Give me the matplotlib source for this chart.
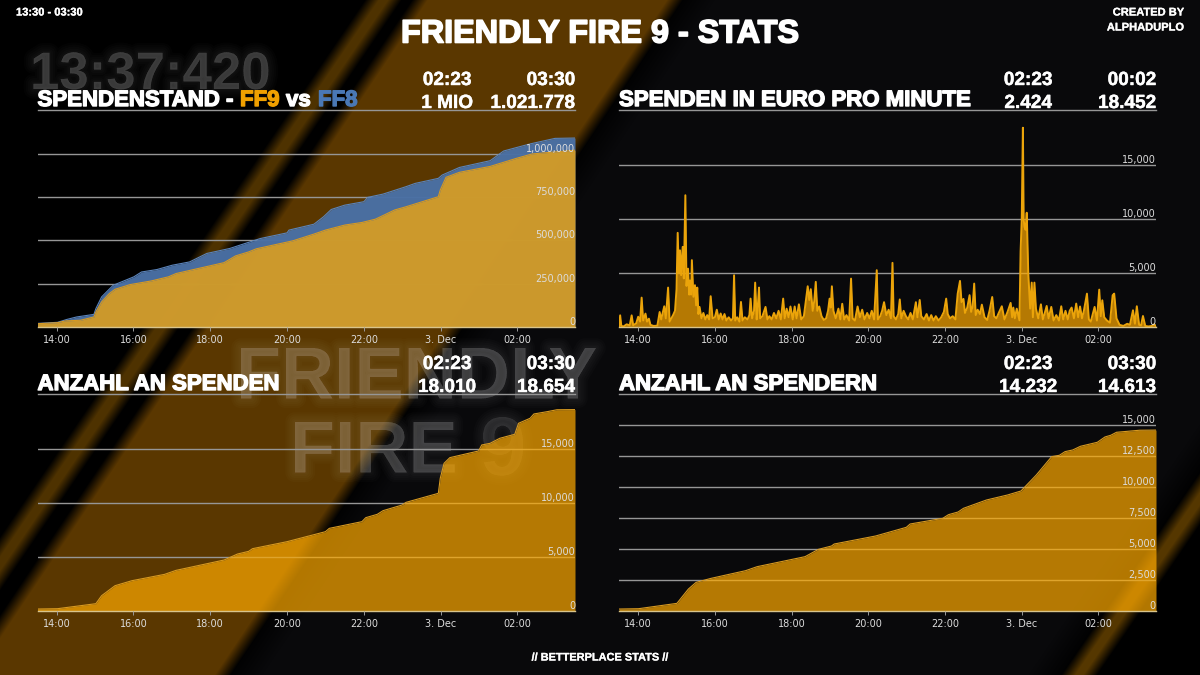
import numpy as np
import matplotlib
matplotlib.use("Agg")
import matplotlib.pyplot as plt
import matplotlib.patheffects as pe

# ----------------------------
# data (hours since midnight 2 Dec, 24 = 3 Dec 00:00)
# ----------------------------
ff9_h = [13.5, 14.02, 14.22, 14.62, 14.97, 15.02, 15.17, 15.37, 15.52, 15.91, 16.46, 16.91, 17.11, 18.36, 18.66, 19.0, 19.2,
         20.15, 20.7, 21.0, 21.5, 21.95, 22.3, 22.8, 23.1, 23.94, 23.99, 24.14, 24.49, 25.29, 25.98, 26.38, 27.5]
ff9_v = [19000, 25000, 35000, 39000, 58000, 87000, 145000, 193000, 218000, 245000, 266000, 290000, 309000, 372000, 411000, 434000, 452000,
         498000, 537000, 560000, 589000, 604000, 623000, 676000, 695000, 753000, 791000, 865000, 894000, 928000, 975000, 1000000, 1021778]

ff8_h = [13.5, 14.02, 14.27, 14.52, 14.97, 15.02, 15.17, 15.47, 16.01, 16.21, 16.61, 17.01, 17.46, 17.91, 18.51, 19.3, 20.0, 20.05,
         20.7, 20.95, 21.15, 21.5, 22.0, 22.1, 22.5, 23.1, 23.34, 23.94, 24.04, 24.49, 25.29, 25.64, 26.33, 26.98, 27.5]
ff8_v = [21000, 27000, 44000, 58000, 73000, 106000, 174000, 241000, 290000, 318000, 332000, 357000, 376000, 425000, 454000, 511000, 544000, 560000,
         594000, 637000, 679000, 704000, 724000, 749000, 768000, 811000, 830000, 859000, 878000, 922000, 961000, 1017000, 1058000, 1090000, 1092000]

spenden_h = [13.5, 14.02, 15.02, 15.17, 15.52, 15.96, 16.81, 17.11, 18.36, 18.71, 19.0, 19.1, 20.0, 21.0, 21.1, 21.95, 22.05, 22.35, 22.5,
             23.0, 23.1, 23.94, 23.99, 24.09, 24.24, 24.99, 25.07, 25.29, 25.54, 25.93, 26.03, 26.33, 26.43, 26.78, 27.03, 27.5]
spenden_v = [155, 186, 650, 1392, 2320, 2784, 3371, 3743, 4701, 5258, 5505, 5753, 6402, 7330, 7639, 8258, 8629, 8939, 9279,
             9805, 10052, 10887, 12279, 13671, 14197, 14816, 15372, 15527, 15991, 16362, 17383, 17847, 18249, 18465, 18640, 18654]

spender_h = [13.5, 14.01, 15.01, 15.31, 15.51, 15.9, 16.8, 17.1, 18.35, 18.7, 19.04, 19.11, 20.19, 20.99, 21.09, 21.94, 22.09, 22.34, 22.48,
             23.08, 23.63, 23.98, 24.38, 24.78, 24.98, 25.13, 25.33, 25.53, 25.97, 26.17, 26.32, 26.47, 27.07, 27.5]
spender_v = [135, 162, 594, 1754, 2293, 2617, 3238, 3561, 4371, 4964, 5234, 5396, 6044, 6745, 7015, 7473, 7770, 7986, 8283,
             8957, 9362, 9686, 10981, 12465, 12573, 12870, 13004, 13301, 13625, 14057, 14192, 14435, 14600, 14613]

# euro per minute, peaks and valleys
pm_h = [13.50, 13.53, 13.56, 13.62, 13.70, 13.78, 13.83, 13.87, 13.95, 14.00, 14.05, 14.09, 14.13, 14.19, 14.23, 14.28, 14.32, 14.40, 14.50, 14.56, 14.60, 14.68, 14.72, 14.78, 14.82, 14.91, 14.96,
        15.00, 15.03, 15.06, 15.09, 15.12, 15.16, 15.19, 15.23, 15.26, 15.30, 15.33, 15.35, 15.38, 15.40, 15.44, 15.48, 15.51, 15.54, 15.57, 15.60, 15.65, 15.70, 15.75, 15.80, 15.85, 15.89, 15.94,
        16.00, 16.05, 16.10, 16.15, 16.20, 16.25, 16.30, 16.36, 16.42, 16.47, 16.50, 16.53, 16.58, 16.64, 16.68, 16.72, 16.78, 16.85, 16.90, 16.93, 16.97, 17.02, 17.05, 17.09, 17.12, 17.15, 17.18, 17.24, 17.32, 17.37, 17.42, 17.48, 17.54, 17.60, 17.66, 17.72, 17.78, 17.82, 17.87, 17.92, 17.97,
        18.03, 18.08, 18.13, 18.19, 18.25, 18.32, 18.38, 18.42, 18.46, 18.50, 18.55, 18.59, 18.63, 18.67, 18.72, 18.78, 18.84, 18.90, 18.95, 18.99, 19.02, 19.05, 19.09, 19.15, 19.22, 19.27, 19.32, 19.37, 19.43, 19.50, 19.55, 19.59, 19.65, 19.72, 19.78, 19.84, 19.90, 19.97,
        20.03, 20.09, 20.15, 20.22, 20.25, 20.31, 20.36, 20.41, 20.47, 20.53, 20.59, 20.63, 20.66, 20.72, 20.78, 20.82, 20.86, 20.92, 20.98, 21.04, 21.10, 21.16, 21.24, 21.28, 21.34, 21.38, 21.45, 21.52, 21.58, 21.64, 21.70, 21.76, 21.83, 21.90, 21.97,
        22.03, 22.07, 22.13, 22.20, 22.27, 22.33, 22.39, 22.43, 22.48, 22.52, 22.58, 22.64, 22.68, 22.72, 22.76, 22.80, 22.85, 22.91, 22.96, 23.03, 23.10, 23.16, 23.23, 23.28, 23.34, 23.40, 23.48, 23.55, 23.63, 23.71, 23.75, 23.78, 23.82, 23.87, 23.94,
        23.97, 24.00, 24.03, 24.05, 24.07, 24.10, 24.13, 24.17, 24.22, 24.26, 24.29, 24.33, 24.37, 24.43, 24.50, 24.55, 24.60, 24.65, 24.70, 24.77, 24.83, 24.90, 24.97, 25.03, 25.08, 25.14, 25.20, 25.25, 25.30, 25.36, 25.42, 25.47, 25.52, 25.57, 25.62, 25.70, 25.75, 25.80, 25.90, 25.96,
        26.02, 26.06, 26.10, 26.15, 26.22, 26.30, 26.37, 26.41, 26.47, 26.55, 26.65, 26.75, 26.82, 26.90, 26.95, 27.00, 27.06, 27.11, 27.16, 27.22, 27.30, 27.40, 27.45, 27.50]
pm_v = [0, 1080, 100, 50, 250, 150, 1080, 150, 350, 950, 500, 2720, 600, 1240, 500, 770, 200, 100, 120, 1390, 700, 1920, 800, 3650, 500, 1100, 1500,
        3500, 8720, 5000, 7100, 4800, 7420, 4500, 12200, 3800, 5400, 3000, 4300, 3000, 6190, 2800, 3870, 2000, 3650, 1200, 1860, 800, 1300, 700, 1100, 700, 2850, 800,
        900, 1600, 700, 1250, 700, 1200, 600, 900, 600, 800, 4790, 600, 900, 500, 2320, 600, 900, 700, 1100, 2630, 800, 1500, 4110, 700, 2000, 3650, 800, 1000, 1860, 700, 1000, 700, 1300, 800, 1500, 700, 2630, 800, 1700, 900, 1900,
        700, 1900, 800, 2100, 700, 1000, 2700, 3770, 2500, 3500, 1500, 2400, 4180, 1500, 1900, 1000, 650, 800, 1500, 2630, 1800, 3770, 1500, 800, 1700, 700, 2150, 700, 1100, 600, 4480, 800, 600, 1900, 900, 1600, 700, 1300,
        800, 1500, 700, 5260, 700, 1000, 1500, 2300, 1100, 1600, 800, 5940, 1000, 700, 1200, 2550, 800, 1500, 1000, 700, 1300, 700, 2300, 900, 2500, 1000, 700, 1200, 600, 1100, 600, 1000, 600, 900, 1400,
        2630, 1200, 800, 1000, 700, 3090, 4270, 2300, 2600, 1300, 1800, 2950, 1400, 1900, 4020, 1100, 1600, 1200, 2070, 900, 650, 1500, 2780, 1000, 800, 1300, 1920, 700, 1400, 2230, 900, 1800, 800, 1700, 620,
        7000, 10000, 18452, 10000, 9280, 9000, 10580, 4950, 1700, 4110, 900, 4110, 1700, 800, 2100, 700, 1300, 1950, 800, 1860, 600, 1100, 600, 1920, 700, 1500, 700, 1500, 1800, 800, 2170, 900, 1900, 800, 1500, 3090, 700, 500, 1860, 600,
        3460, 1000, 2470, 900, 600, 400, 2940, 3090, 800, 200, 100, 300, 200, 1550, 300, 1920, 200, 150, 1020, 100, 50, 100, 250, 80]

# ----------------------------
# ticks and texts
# ----------------------------
tick_h = [14, 16, 18, 20, 22, 24, 26]
tick_lab = ["14:00", "16:00", "18:00", "20:00", "22:00", "3. Dec", "02:00"]

y_ticks_1 = [0, 250000, 500000, 750000, 1000000]
y_ticks_2 = [0, 5000, 10000, 15000]
y_ticks_3 = [0, 5000, 10000, 15000]
y_ticks_4 = [0, 2500, 5000, 7500, 10000, 12500, 15000]

ORANGE = "#ffaa00"
BLUE = "#4a70a5"
GRID = "#969696"
W, H = 1200, 675


def band(X, Y, x0, x1, s, blur):
    # soft diagonal strip between two edges
    left = np.clip((X - (x0 - s * Y)) / blur + 0.5, 0, 1)
    right = np.clip(((x1 - s * Y) - X) / blur + 0.5, 0, 1)
    return left * right


def add_panel(left, right, top, bottom, ymax, yticks):
    ax = fig.add_axes([left / W, 1 - bottom / H, (right - left) / W, (bottom - top) / H])
    ax.patch.set_alpha(0)
    ax.set_axisbelow(False)
    ax.set_xlim(13.5, 27.5)
    ax.set_ylim(0, ymax)
    ax.set_xticks(tick_h)
    ax.set_xticklabels(tick_lab)
    ax.set_yticks(yticks)
    ax.set_yticklabels([f"{v:,}" for v in yticks])
    ax.yaxis.tick_right()
    ax.tick_params(axis="y", right=False, length=0, pad=0, labelsize=7, labelcolor="#dcdcdc")
    ax.tick_params(axis="x", length=3, width=0.7, color="#999999", pad=3, labelsize=7, labelcolor="#dcdcdc")
    for lab in ax.get_yticklabels():
        lab.set_ha("right")
        lab.set_va("bottom")
    # grid stays under the fills, tick labels stay above them
    for v in yticks[1:]:
        ax.axhline(v, color=GRID, lw=1.0, zorder=1)
    for side in ["left", "right"]:
        ax.spines[side].set_visible(False)
    ax.spines["top"].set_color(GRID)
    ax.spines["top"].set_linewidth(1.0)
    ax.spines["bottom"].set_color("#d8c48c")
    ax.spines["bottom"].set_linewidth(1.0)
    return ax


def label(x, y, s, size, color="white", ha="left", stroke=0.5):
    t = fig.text(x / W, 1 - (y + 1.5) / H, s, fontsize=size, color=color, ha=ha, va="center",
                 family="Liberation Sans", weight="bold")
    t.set_path_effects([pe.withStroke(linewidth=stroke, foreground=color)])
    return t


fig = plt.figure(figsize=(12, 6.75), dpi=100)
fig.patch.set_facecolor("black")

# ----------------------------
# background
# ----------------------------
X, Y = np.meshgrid(np.arange(W) + 0.5, np.arange(H) + 0.5)
stripe1 = band(X, Y, 372, 395, 0.68, 14)
stripe2 = band(X, Y, 1530, 1552, 0.684, 14)
main = band(X, Y, 420, 675, 0.67, 16)
dark = np.clip((X - (675 - 0.67 * Y)) / 40, 0, 1) * np.clip(((1530 - 0.684 * Y) - X) / 40, 0, 1)
img = np.zeros((H, W, 3))
img += dark[..., None] * np.array([9, 9, 11]) / 255
img += main[..., None] * np.array([90, 55, 0]) / 255
img += stripe1[..., None] * np.array([78, 50, 0]) / 255
img += stripe2[..., None] * np.array([85, 55, 0]) / 255

bg = fig.add_axes([0, 0, 1, 1], zorder=-1)
bg.imshow(np.clip(img, 0, 1), extent=(0, W, H, 0), aspect="auto", interpolation="bilinear")
bg.axis("off")

# blurred lettering behind the charts, stacked faint strokes
blur_fx = [pe.Stroke(linewidth=w, foreground=(1, 1, 1, 0.016)) for w in (14, 11, 8, 5, 2.5)] + [pe.Normal()]
for x, y, s, size, a in [(30, 75, "13:37:420", 38, 0.035), (236, 379, "FRIENDLY", 53, 0.035),
                         (290, 453, "FIRE", 53, 0.035), (480, 453, "9", 60, 0.02)]:
    bg.text(x, y, s, fontsize=size, color=(1, 1, 1, a), family="Liberation Sans", weight="bold",
            ha="left", va="center", path_effects=blur_fx)

# ----------------------------
# panels
# ----------------------------
ax1 = add_panel(37.5, 575, 110, 327, 1254000, y_ticks_1)
ax1.fill_between(ff8_h, ff8_v, color=BLUE, alpha=0.97, lw=0, zorder=2)
ax1.plot(ff8_h, ff8_v, color="#5b84bb", lw=0.8, zorder=2)
ax1.fill_between(ff9_h, ff9_v, color=ORANGE, alpha=0.72, lw=0, zorder=2.1)
ax1.plot(ff9_h, ff9_v, color="#d89a20", lw=0.8, zorder=2.2)

ax2 = add_panel(619, 1156, 110, 327, 20093, y_ticks_2)
ax2.fill_between(pm_h, pm_v, color=ORANGE, alpha=0.7, lw=0, zorder=2)
ax2.plot(pm_h, pm_v, color="#eba40a", lw=1.4, zorder=2.2)

ax3 = add_panel(37.5, 575, 394, 610.7, 20100, y_ticks_3)
ax3.fill_between(spenden_h, spenden_v, color=ORANGE, alpha=0.7, lw=0, zorder=2)
ax3.plot(spenden_h, spenden_v, color="#d89a20", lw=0.8, zorder=2.2)

ax4 = add_panel(619, 1156, 394, 610.7, 17532, y_ticks_4)
ax4.fill_between(spender_h, spender_v, color=ORANGE, alpha=0.7, lw=0, zorder=2)
ax4.plot(spender_h, spender_v, color="#d89a20", lw=0.8, zorder=2.2)

# ----------------------------
# texts
# ----------------------------
label(600, 33, "FRIENDLY FIRE 9 - STATS", 23.3, ha="center", stroke=1.2)
label(16, 11, "13:30 - 03:30", 8, stroke=0.2)
label(1184, 11, "CREATED BY", 8, ha="right", stroke=0.2)
label(1184, 26, "ALPHADUPLO", 8, ha="right", stroke=0.2)
label(600, 656, "// BETTERPLACE STATS //", 7.9, ha="center", stroke=0.2)

label(37.5, 99, "SPENDENSTAND -", 16, stroke=1.0)
label(240, 99, "FF9", 16, color="#f0a000", stroke=1.0)
label(286, 99, "vs", 16, stroke=1.0)
label(318, 99, "FF8", 16, color="#4a78b5", stroke=1.0)
label(619, 99, "SPENDEN IN EURO PRO MINUTE", 16, stroke=1.0)
label(37.5, 383, "ANZAHL AN SPENDEN", 16, stroke=1.0)
label(619, 383, "ANZAHL AN SPENDERN", 16, stroke=1.0)

stats = [(447, 575, 79, 102, "02:23", "03:30", "1 MIO", "1.021.778"),
         (1028, 1156, 79, 102, "02:23", "00:02", "2.424", "18.452"),
         (447, 575, 363, 386, "02:23", "03:30", "18.010", "18.654"),
         (1028, 1156, 363, 386, "02:23", "03:30", "14.232", "14.613")]
for xc, xr, y1, y2, t1, t2, v1, v2 in stats:
    label(xc, y1, t1, 13.7, ha="center", stroke=0.3)
    label(xr, y1, t2, 13.7, ha="right", stroke=0.3)
    label(xc, y2, v1, 13.7, ha="center", stroke=0.3)
    label(xr, y2, v2, 13.7, ha="right", stroke=0.3)

fig.savefig("out.png", dpi=100, facecolor="black")
